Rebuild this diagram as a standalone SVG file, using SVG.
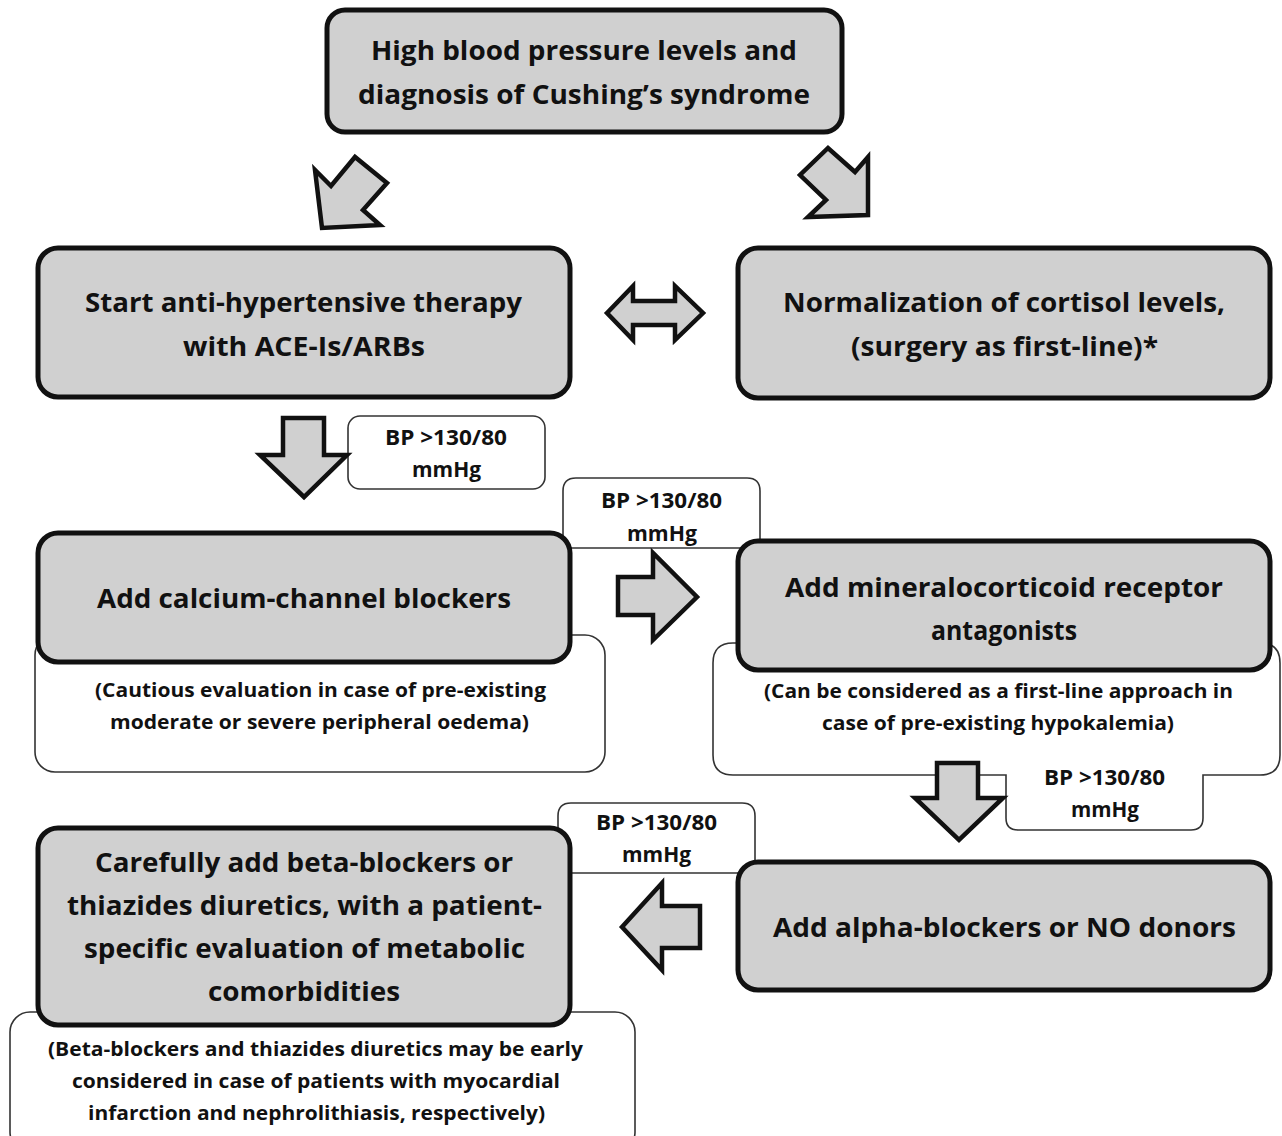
<svg xmlns="http://www.w3.org/2000/svg" width="1282" height="1136" viewBox="0 0 1282 1136">
<style>
.box{fill:#d0d0d0;stroke:#111;stroke-width:5}
.note{fill:#fff;stroke:#333;stroke-width:1.6}
.arr{fill:#d0d0d0;stroke:#111;stroke-width:4.5;stroke-linejoin:miter}
.t{font-family:"Open Sans","Noto Sans",sans-serif;font-weight:bold;fill:#111;font-size:27px}
.n{font-family:"Open Sans","Noto Sans",sans-serif;font-weight:bold;fill:#111;font-size:20px}
.b{font-family:"Open Sans","Noto Sans",sans-serif;font-weight:bold;fill:#111;font-size:21px}
</style>
<rect width="1282" height="1136" fill="#fff"/>
<g id="notes">
<g id="note-ccb"><rect class="note" x="35" y="635" width="570" height="137" rx="20"/></g>
<g id="note-mra"><path class="note" d="M733,643 Q713,643 713,663 L713,755 Q713,775 733,775 L1006,775 L1006,818 Q1006,830 1018,830 L1191,830 Q1203,830 1203,818 L1203,775 L1260,775 Q1280,775 1280,755 L1280,663 Q1280,643 1260,643 Z"/></g>
<g id="note-beta"><rect class="note" x="10" y="1012" width="625" height="140" rx="20"/></g>
<g id="bp1"><rect class="note" x="348" y="416" width="197" height="73" rx="12"/></g>
<g id="bp2"><path class="note" d="M563,548 L563,491 Q563,478 576,478 L747,478 Q760,478 760,491 L760,548 Z"/></g>
<g id="bp4"><path class="note" d="M558,873 L558,816 Q558,803 571,803 L742,803 Q755,803 755,816 L755,873 Z"/></g>
</g>
<g id="top"><rect class="box" x="327" y="10" width="515" height="122" rx="18"/></g>
<g id="start"><rect class="box" x="38" y="248" width="532" height="149" rx="20"/></g>
<g id="cortisol"><rect class="box" x="738" y="248" width="532" height="150" rx="20"/></g>
<g id="ccb"><rect class="box" x="38" y="533" width="532" height="129" rx="20"/></g>
<g id="mra"><rect class="box" x="738" y="541" width="532" height="129" rx="20"/></g>
<g id="beta"><rect class="box" x="38" y="828" width="532" height="197" rx="20"/></g>
<g id="alpha"><rect class="box" x="738" y="862" width="532" height="128" rx="20"/></g>
<g id="connectors">
<polygon class="arr" points="322,228 315,170 331,186 355,157 387,183 363,210 380,225"/>
<polygon class="arr" points="868,215 868,157 855,172 828,148 800,175 826,200 808,217"/>
<polygon class="arr" points="607,313 633,286 633,301 675,301 675,286 703,313 675,340 675,325 633,325 633,340"/>
<polygon class="arr" points="283,418 324,418 324,455 347,455 304,497 260,455 283,455"/>
<polygon class="arr" points="618,577 653,577 653,553 697,597 653,640 653,615 618,615"/>
<polygon class="arr" points="937,763 978,763 978,798 1003,798 959,840 915,798 937,798"/>
<polygon class="arr" points="622,927 662,883 662,906 700,906 700,948 662,948 662,970"/>
</g>
<g id="texts">
<text class="t" x="371" y="60" textLength="426" lengthAdjust="spacingAndGlyphs">High blood pressure levels and</text>
<text class="t" x="358" y="104" textLength="452" lengthAdjust="spacingAndGlyphs">diagnosis of Cushing’s syndrome</text>
<text class="t" x="85" y="312" textLength="437" lengthAdjust="spacingAndGlyphs">Start anti-hypertensive therapy</text>
<text class="t" x="183" y="356" textLength="242" lengthAdjust="spacingAndGlyphs">with ACE-Is/ARBs</text>
<text class="t" x="783" y="312" textLength="442" lengthAdjust="spacingAndGlyphs">Normalization of cortisol levels,</text>
<text class="t" x="851" y="356" textLength="307" lengthAdjust="spacingAndGlyphs">(surgery as first-line)*</text>
<text class="b" x="385" y="445" textLength="122" lengthAdjust="spacingAndGlyphs">BP &gt;130/80</text>
<text class="b" x="412" y="477" textLength="69" lengthAdjust="spacingAndGlyphs">mmHg</text>
<text class="b" x="601" y="508" textLength="121" lengthAdjust="spacingAndGlyphs">BP &gt;130/80</text>
<text class="b" x="627" y="541" textLength="70" lengthAdjust="spacingAndGlyphs">mmHg</text>
<text class="t" x="97" y="608" textLength="414" lengthAdjust="spacingAndGlyphs">Add calcium-channel blockers</text>
<text class="n" x="95" y="697" textLength="451" lengthAdjust="spacingAndGlyphs">(Cautious evaluation in case of pre-existing</text>
<text class="n" x="110" y="729" textLength="419" lengthAdjust="spacingAndGlyphs">moderate or severe peripheral oedema)</text>
<text class="t" x="785" y="597" textLength="438" lengthAdjust="spacingAndGlyphs">Add mineralocorticoid receptor</text>
<text class="t" x="931" y="640" textLength="146" lengthAdjust="spacingAndGlyphs">antagonists</text>
<text class="n" x="764" y="698" textLength="469" lengthAdjust="spacingAndGlyphs">(Can be considered as a first-line approach in</text>
<text class="n" x="822" y="730" textLength="352" lengthAdjust="spacingAndGlyphs">case of pre-existing hypokalemia)</text>
<text class="b" x="1044" y="785" textLength="121" lengthAdjust="spacingAndGlyphs">BP &gt;130/80</text>
<text class="b" x="1071" y="817" textLength="68" lengthAdjust="spacingAndGlyphs">mmHg</text>
<text class="b" x="596" y="830" textLength="121" lengthAdjust="spacingAndGlyphs">BP &gt;130/80</text>
<text class="b" x="622" y="862" textLength="69" lengthAdjust="spacingAndGlyphs">mmHg</text>
<text class="t" x="95" y="872" textLength="418" lengthAdjust="spacingAndGlyphs">Carefully add beta-blockers or</text>
<text class="t" x="67" y="915" textLength="475" lengthAdjust="spacingAndGlyphs">thiazides diuretics, with a patient-</text>
<text class="t" x="84" y="958" textLength="441" lengthAdjust="spacingAndGlyphs">specific evaluation of metabolic</text>
<text class="t" x="208" y="1001" textLength="192" lengthAdjust="spacingAndGlyphs">comorbidities</text>
<text class="t" x="773" y="937" textLength="463" lengthAdjust="spacingAndGlyphs">Add alpha-blockers or NO donors</text>
<text class="n" x="48" y="1056" textLength="535" lengthAdjust="spacingAndGlyphs">(Beta-blockers and thiazides diuretics may be early</text>
<text class="n" x="72" y="1088" textLength="488" lengthAdjust="spacingAndGlyphs">considered in case of patients with myocardial</text>
<text class="n" x="88" y="1120" textLength="457" lengthAdjust="spacingAndGlyphs">infarction and nephrolithiasis, respectively)</text>
</g>
</svg>
